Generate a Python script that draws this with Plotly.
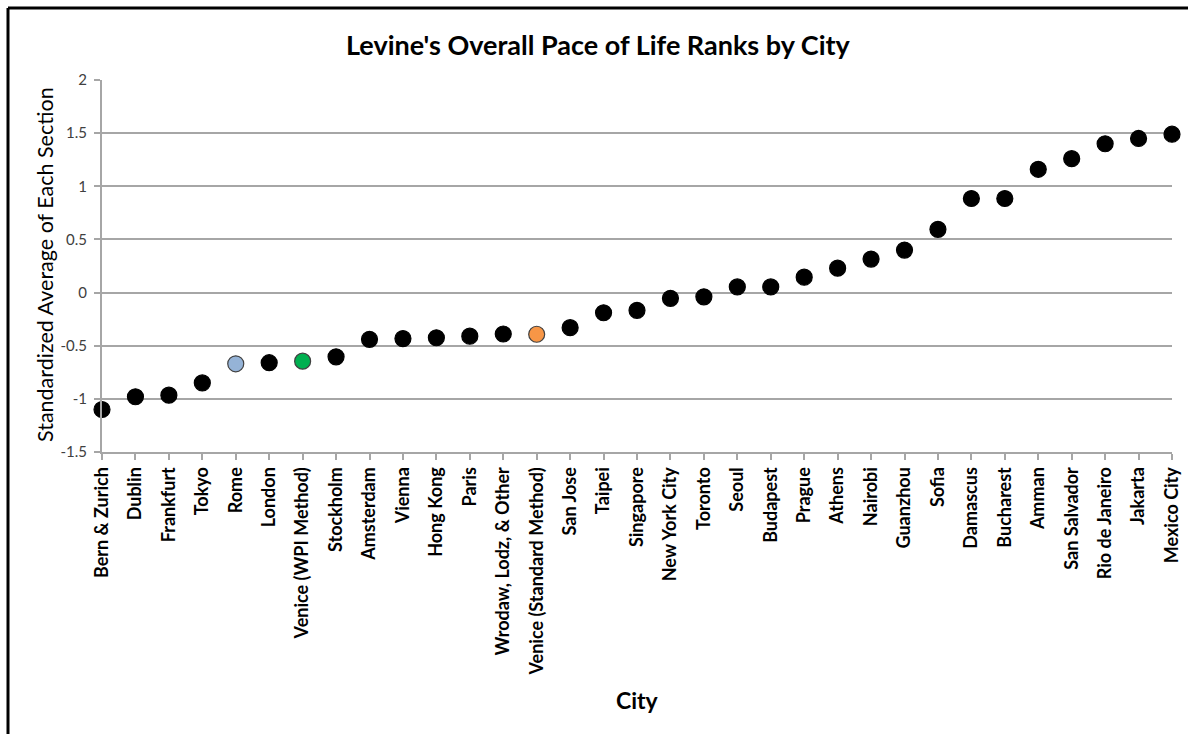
import plotly.graph_objects as go

cities = ["Bern & Zurich", "Dublin", "Frankfurt", "Tokyo", "Rome", "London",
          "Venice (WPI Method)", "Stockholm", "Amsterdam", "Vienna", "Hong Kong",
          "Paris", "Wrodaw, Lodz, & Other", "Venice (Standard Method)", "San Jose",
          "Taipei", "Singapore", "New York City", "Toronto", "Seoul", "Budapest",
          "Prague", "Athens", "Nairobi", "Guanzhou", "Sofia", "Damascus", "Bucharest",
          "Amman", "San Salvador", "Rio de Janeiro", "Jakarta", "Mexico City"]
values = [-1.10, -0.98, -0.965, -0.85, -0.67, -0.66, -0.645, -0.605, -0.44, -0.433,
          -0.425, -0.41, -0.39, -0.392, -0.33, -0.19, -0.167, -0.054, -0.04, 0.053,
          0.053, 0.145, 0.23, 0.315, 0.40, 0.595, 0.885, 0.885, 1.16, 1.26, 1.40,
          1.45, 1.49]
highlight = {"Rome": "#95B3D7", "Venice (WPI Method)": "#00B050",
             "Venice (Standard Method)": "#F79646"}
y_ticks = [-1.5, -1, -0.5, 0, 0.5, 1, 1.5, 2]
y_ticktext = ["-1.5", "-1", "-0.5", "0", "0.5", "1", "1.5", "2"]

fills = [highlight.get(c, "black") for c in cities]
lines = ["#404040" if c in highlight else "black" for c in cities]

W, H = 1188, 734
L, R, T, B = 102, 1172, 80, 452
font = "Lato, 'Open Sans', sans-serif"

fig = go.Figure()
fig.add_trace(go.Scatter(
    x=list(range(len(cities))), y=values, mode="markers",
    marker=dict(size=16, color=fills, line=dict(color=lines, width=1.2)),
    cliponaxis=False, hoverinfo="skip", showlegend=False))

fig.update_layout(
    width=W, height=H,
    margin=dict(l=L, r=W - R, t=T, b=H - B, pad=0, autoexpand=False),
    paper_bgcolor="white", plot_bgcolor="white",
    font=dict(family=font, color="black"),
    xaxis=dict(range=[0, len(cities) - 1], tickmode="array", automargin=False,
               tickvals=list(range(len(cities))), ticktext=cities,
               tickangle=-90, tickfont=dict(size=18, family=font, color="black", weight="bold"),
               showgrid=False, zeroline=False, showline=True, linecolor="#A6A6A6", linewidth=2,
               ticks="outside", ticklen=6, tickcolor="#A6A6A6", tickwidth=2,
               ticklabelstandoff=0),
    yaxis=dict(range=[-1.5, 2], tickmode="array", tickvals=y_ticks, ticktext=y_ticktext,
               automargin=False,
               tickfont=dict(size=15, family=font, color="#404040"),
               showgrid=True, gridcolor="#A6A6A6", gridwidth=2, zeroline=False,
               showline=True, linecolor="#A6A6A6", linewidth=2,
               ticks="outside", ticklen=6, tickcolor="#A6A6A6", tickwidth=2,
               ticklabelstandoff=4),
    annotations=[
        dict(text="<b>Levine's Overall Pace of Life Ranks by City</b>", x=(598 - L) / (R - L),
             y=(B - 44) / (B - T), xref="paper", yref="paper", showarrow=False,
             font=dict(size=27, family=font, color="black"), xanchor="center", yanchor="middle"),
        dict(text="Standardized Average of Each Section", x=(45 - L) / (R - L),
             y=(B - 265) / (B - T), xref="paper", yref="paper", showarrow=False, textangle=-90,
             font=dict(size=21.5, family=font, color="black"), xanchor="center", yanchor="middle"),
        dict(text="<b>City</b>", x=(637 - L) / (R - L), y=(B - 700) / (B - T),
             xref="paper", yref="paper", showarrow=False,
             font=dict(size=23, family=font, color="black"), xanchor="center", yanchor="middle"),
    ],
    shapes=[
        dict(type="line", xref="paper", yref="paper", x0=(8 - L) / (R - L), x1=(W + 20 - L) / (R - L),
             y0=(B - 8) / (B - T), y1=(B - 8) / (B - T), line=dict(color="black", width=3)),
        dict(type="line", xref="paper", yref="paper", x0=(8 - L) / (R - L), x1=(8 - L) / (R - L),
             y0=(B - 8) / (B - T), y1=(B - H - 20) / (B - T), line=dict(color="black", width=3)),
    ],
)

fig.write_html("out.html", config={"displayModeBar": False},
               post_script="document.body.style.margin='0';")
